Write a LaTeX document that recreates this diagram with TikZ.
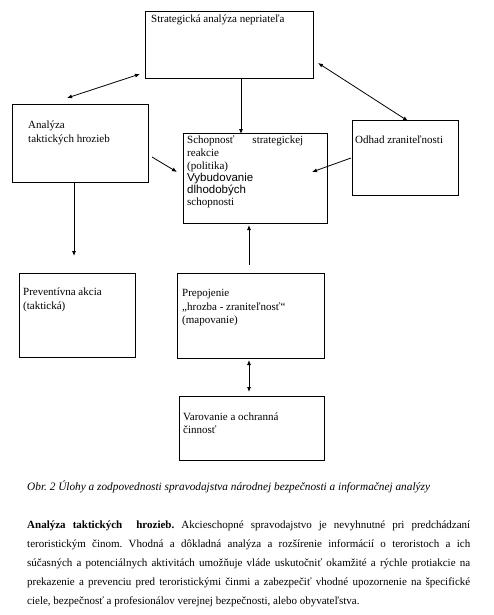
\documentclass[tikz,border=0pt]{standalone}
\usepackage{fontspec}
\setmainfont{Liberation Serif}
\newfontfamily\arialfont{Liberation Sans}
\usetikzlibrary{arrows.meta}
\newcommand{\stt}{\rule{0pt}{9pt}}
\frenchspacing
\begin{document}
\begin{tikzpicture}[x=1pt,y=-1pt,
  boxnode/.style={draw, line width=1pt, inner sep=0pt},
  txt/.style={anchor=north west, inner sep=0pt, align=left, font=\fontsize{11}{13.5}\selectfont},
  conn/.style={line width=0.8pt, -{Latex[length=5pt,width=4pt]}},
  dconn/.style={line width=0.8pt, {Latex[length=5pt,width=4pt]}-{Latex[length=5pt,width=4pt]}}]
\useasboundingbox (0,0) rectangle (494,615);
\fill[white] (0,0) rectangle (494,615);

% boxes
\node[boxnode, minimum width=168pt, minimum height=67pt] (strat) at (229,45.5) {};
\node[boxnode, minimum width=136pt, minimum height=77pt] (anal) at (80,143.5) {};
\node[boxnode, minimum width=144pt, minimum height=90pt] (schop) at (255,178) {};
\node[boxnode, minimum width=106pt, minimum height=75pt] (odhad) at (405,157.5) {};
\node[boxnode, minimum width=116pt, minimum height=84pt] (prev) at (77,315) {};
\node[boxnode, minimum width=147pt, minimum height=85pt] (prep) at (250.5,315.5) {};
\node[boxnode, minimum width=145pt, minimum height=64pt] (varo) at (251.5,428) {};

% texts
\node[txt] (tstrat) at (151,13) {\stt Strategická analýza nepriateľa};
\node[txt, font=\fontsize{11}{14}\selectfont] (tanal) at (28,119) {\stt Analýza\\taktických hrozieb};
\node[txt, font=\fontsize{11}{13}\selectfont] (tschop) at (187,134) {\hbox to 116pt{\stt Schopnosť\hfill strategickej}\\reakcie\\(politika)\\[-1pt]
  {\arialfont\fontsize{11.5}{13}\selectfont Vybudovanie}\\[-0.5pt]{\arialfont\fontsize{11.5}{13}\selectfont dlhodobých}\\[-1pt]schopnosti};
\node[txt] (todhad) at (355,134.5) {\stt Odhad zraniteľnosti};
\node[txt] (tprev) at (23,286.5) {\stt Preventívna akcia\\(taktická)};
\node[txt] (tprep) at (182,287.5) {\stt Prepojenie\\„hrozba - zraniteľnosť“\\(mapovanie)};
\node[txt, font=\fontsize{11}{12.5}\selectfont] (tvaro) at (183,411.5) {\stt Varovanie a ochranná\\činnosť};

% connector end points
\coordinate (tlA) at (67,98);
\coordinate (tlB) at (140,74);
\coordinate (trA) at (318,63);
\coordinate (trB) at (408,121);
\coordinate (svA) at (241,79);
\coordinate (svB) at (241,134);
\coordinate (lcA) at (152,157);
\coordinate (lcB) at (177,172);
\coordinate (rcA) at (351,158);
\coordinate (rcB) at (312,172);
\coordinate (ldA) at (74,182);
\coordinate (ldB) at (74,256);
\coordinate (puA) at (249,265);
\coordinate (puB) at (249,225);
\coordinate (pvA) at (249,360);
\coordinate (pvB) at (249,392);

\draw[dconn] (tlA) -- (tlB);
\draw[dconn] (trA) -- (trB);
\draw[conn] (svA) -- (svB);
\draw[conn] (lcA) -- (lcB);
\draw[conn] (rcA) -- (rcB);
\draw[conn] (ldA) -- (ldB);
\draw[conn] (puA) -- (puB);
\draw[dconn] (pvA) -- (pvB);

% caption
\node[anchor=base west, inner sep=0pt, font=\fontsize{11.3}{12}\selectfont\itshape] (cap) at (27,490)
  {Obr. 2 Úlohy a zodpovednosti spravodajstva národnej bezpečnosti a informačnej analýzy};

% paragraph
\node[anchor=north west, inner sep=0pt, text width=443pt, align=justify,
      font=\fontsize{11}{19}\selectfont] (para) at (27,519)
  {\frenchspacing\hyphenpenalty=10000\exhyphenpenalty=10000\stt\textbf{Analýza taktických\ \ hrozieb.} Akcieschopné spravodajstvo je nevyhnutné pri predchádzaní\linebreak
  teroristickým činom. Vhodná a dôkladná analýza a rozšírenie informácií o teroristoch a ich\linebreak
  súčasných a potenciálnych aktivitách umožňuje vláde uskutočniť okamžité a rýchle protiakcie na\linebreak
  prekazenie a prevenciu pred teroristickými činmi a zabezpečiť vhodné upozornenie na špecifické\linebreak
  ciele, bezpečnosť a profesionálov verejnej bezpečnosti, alebo obyvateľstva.};
\end{tikzpicture}
\end{document}
